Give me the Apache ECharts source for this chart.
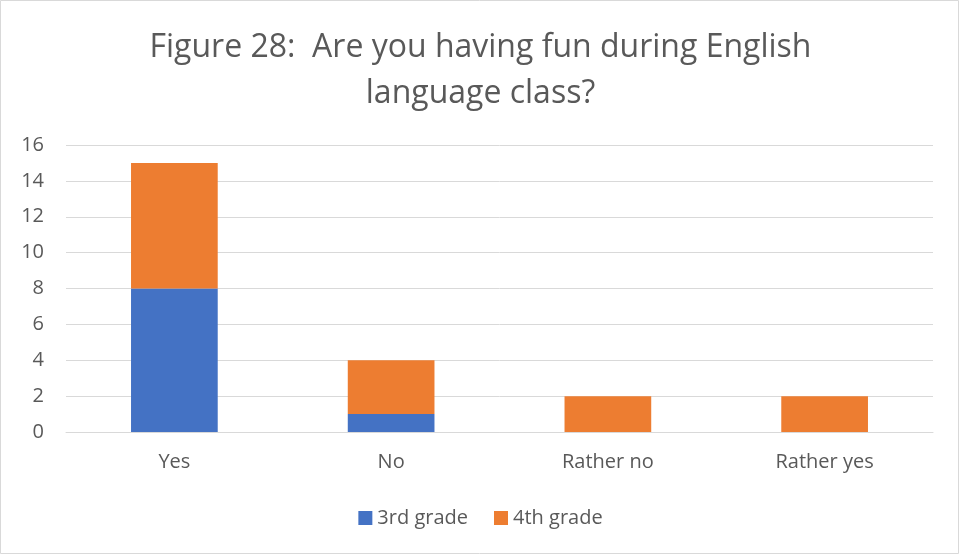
<!DOCTYPE html>
<html>
<head>
<meta charset="utf-8">
<script src="https://cdn.jsdelivr.net/npm/echarts@6/dist/echarts.min.js"></script>
<style>
  html, body { margin: 0; padding: 0; background: #fff; }
  #main { width: 961px; height: 556px; }
</style>
</head>
<body>
<div id="main"></div>
<script>
// chart data
var categories = ['Yes', 'No', 'Rather no', 'Rather yes'];
var grade3 = [8, 1, 0, 0];
var grade4 = [7, 3, 2, 2];
var yTicks = { min: 0, max: 16, step: 2 };

var myChart = echarts.init(document.getElementById('main'));
var font = '"Open Sans", "Liberation Sans", sans-serif';

var option = {
    animation: false,
    backgroundColor: '#fff',
    title: {
        text: 'Figure 28:  Are you having fun during English\nlanguage class?',
        left: 'center',
        top: 20,
        textStyle: {
            fontFamily: font,
            fontSize: 32,
            fontWeight: 'normal',
            color: '#595959',
            lineHeight: 46
        }
    },
    graphic: [{
        type: 'rect',
        shape: { x: 0.5, y: 0.5, width: 958, height: 553 },
        style: { fill: 'none', stroke: '#d9d9d9', lineWidth: 1 }
    }],
    legend: {
        bottom: 23,
        left: 'center',
        itemWidth: 14,
        itemHeight: 14,
        itemGap: 26,
        icon: 'rect',
        textStyle: { fontFamily: font, fontSize: 20, color: '#595959' },
        data: ['3rd grade', '4th grade']
    },
    grid: { left: 66, right: 28, top: 145, bottom: 124 },
    xAxis: {
        type: 'category',
        data: categories,
        axisLine: { lineStyle: { color: '#d9d9d9' } },
        axisTick: { show: false },
        axisLabel: { fontFamily: font, fontSize: 20, color: '#595959', margin: 20 }
    },
    yAxis: {
        type: 'value',
        min: yTicks.min,
        max: yTicks.max,
        interval: yTicks.step,
        axisLine: { show: false },
        axisTick: { show: false },
        axisLabel: { fontFamily: font, fontSize: 20, color: '#595959', margin: 22 },
        splitLine: { lineStyle: { color: '#d9d9d9' } }
    },
    series: [{
        name: '3rd grade',
        type: 'bar',
        stack: 'g',
        barWidth: '40%',
        data: grade3,
        itemStyle: { color: '#4472c4' }
    }, {
        name: '4th grade',
        type: 'bar',
        stack: 'g',
        barWidth: '40%',
        data: grade4,
        itemStyle: { color: '#ed7d31' }
    }]
};

myChart.setOption(option);
</script>
</body>
</html>
